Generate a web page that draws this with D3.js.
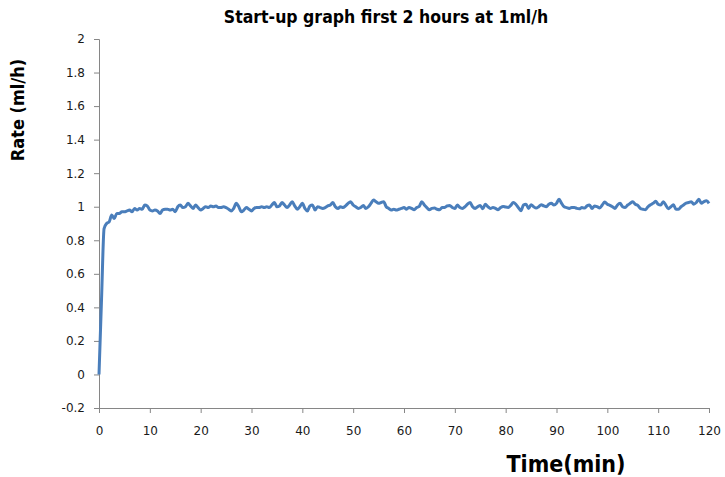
<!DOCTYPE html>
<html>
<head>
<meta charset="utf-8">
<script src="https://cdn.jsdelivr.net/npm/d3@7"></script>
<style>
  body { margin: 0; background: #fff; }
  .tick text { font-family: "DejaVu Sans", sans-serif; font-size: 12px; fill: #1a1a1a; }
  .domain, .tick line { stroke: #868686; }
</style>
</head>
<body>
<div id="chart"></div>
<script>
// time in minutes, sampled every half minute
var times = d3.range(0, 120.5, 0.5);

var rates = [
  0, 0.45, 0.87, 0.90, 0.91, 0.95, 0.93, 0.96, 0.96, 0.97,
  0.97, 0.975, 0.98, 0.97, 0.99, 0.98, 0.99, 0.985, 1.01, 1.005,
  0.98, 0.975, 0.98, 0.975, 0.96, 0.98, 0.985, 0.985, 0.98, 0.985,
  0.97, 1.0, 1.01, 0.995, 1.0, 1.02, 1.005, 0.99, 1.01, 0.995,
  0.98, 0.99, 1.0, 0.995, 1.005, 1.0, 1.005, 0.995, 0.995, 1.0,
  0.995, 0.985, 0.975, 0.99, 1.02, 1.0, 0.97, 0.98, 0.995, 0.985,
  0.975, 0.99, 0.995, 0.995, 1.0, 0.995, 1.0, 0.995, 1.01, 1.025,
  1.0, 1.005, 1.025, 1.01, 0.995, 1.01, 1.03, 1.005, 0.985, 1.0,
  1.02, 0.99, 0.975, 1.005, 1.01, 0.98, 1.0, 0.995, 0.99, 0.995,
  1.005, 1.01, 1.025, 1.0, 0.99, 1.0, 0.995,
  // 48.5 - 72
  1.005, 1.02, 1.03, 1.01, 1.0, 0.99, 0.995, 1.008, 0.99, 1.0,
  1.02, 1.04, 1.03, 1.02, 1.025, 1.03, 1.0, 0.99, 0.98, 0.985,
  0.98, 0.985, 0.99, 0.995, 0.985, 0.996, 0.99, 0.982, 0.995, 1.002,
  1.03, 1.01, 0.995, 0.982, 0.99, 0.992, 0.985, 0.982, 0.995, 0.996,
  1.005, 1.008, 0.995, 0.99, 1.01, 0.995, 0.99, 1.0,
  // 72.5 - 96.5
  1.015, 1.025, 1.0, 0.99, 1.0, 1.008, 0.988, 1.015, 1.0, 0.99,
  0.995, 0.99, 0.982, 0.995, 1.002, 0.998, 0.996, 1.008, 1.025, 1.015,
  0.995, 0.976, 1.01, 1.015, 0.99, 1.012, 1.0, 0.992, 1.0, 1.012,
  1.005, 1.0, 1.015, 1.02, 1.01, 1.02, 1.045, 1.02, 1.0, 0.995,
  0.99, 0.995, 0.996, 0.99, 0.988, 0.995, 0.992, 1.005, 1.01,
  // 97 - 120
  0.99, 1.005, 1.0, 0.992, 1.01, 1.028, 1.015, 1.008, 1.0, 0.99,
  1.01, 1.02, 1.0, 0.996, 1.01, 1.02, 1.03, 1.015, 1.008, 0.99,
  0.985, 0.982, 1.0, 1.012, 1.02, 1.032, 1.015, 1.01, 1.03, 1.01,
  0.988, 1.0, 1.012, 0.985, 0.985, 1.0, 1.01, 1.022, 1.025, 1.03,
  1.015, 1.025, 1.045, 1.02, 1.03, 1.035, 1.02
];

var xTicks = d3.range(0, 121, 10);
var yTicks = [-0.2, 0, 0.2, 0.4, 0.6, 0.8, 1, 1.2, 1.4, 1.6, 1.8, 2];

var width = 725,
    height = 477;

var x = d3.scaleLinear().domain([0, 120]).range([99, 709]);
var y = d3.scaleLinear().domain([-0.2, 2]).range([408, 39]);

var svg = d3.select('#chart').append('svg')
  .attr('width', width)
  .attr('height', height);

var data = times.map(function(t, i) { return [t, rates[i]]; })
  .filter(function(d) { return d[1] !== undefined; });

// plain hyphen for the minus sign, like the original
var fmt = function(d) { return String(+d.toFixed(1)); };

var yAxis = svg.append('g')
  .attr('transform', 'translate(' + x(0) + ',0)')
  .call(d3.axisLeft(y).tickValues(yTicks).tickSize(5).tickPadding(9).tickFormat(fmt));

var xAxis = svg.append('g')
  .attr('transform', 'translate(0,' + y(-0.2) + ')')
  .call(d3.axisBottom(x).tickValues(xTicks).tickSize(5).tickPadding(13));

svg.selectAll('.domain').attr('stroke', '#868686');

var line = d3.line()
  .x(function(d) { return x(d[0]); })
  .y(function(d) { return y(d[1]); })
  .curve(d3.curveMonotoneX);

svg.append('path')
  .datum(data)
  .attr('fill', 'none')
  .attr('stroke', '#4a7ebb')
  .attr('stroke-width', 3)
  .attr('stroke-linejoin', 'round')
  .attr('d', line);

svg.append('text')
  .attr('x', 386)
  .attr('y', 23)
  .attr('text-anchor', 'middle')
  .style('font-family', '"DejaVu Sans Condensed", "DejaVu Sans", sans-serif')
  .style('font-weight', 'bold')
  .style('font-size', '17.5px')
  .text('Start-up graph first 2 hours at 1ml/h');

svg.append('text')
  .attr('transform', 'translate(24,110) rotate(-90)')
  .attr('text-anchor', 'middle')
  .style('font-family', '"DejaVu Sans Condensed", "DejaVu Sans", sans-serif')
  .style('font-weight', 'bold')
  .style('font-size', '18px')
  .text('Rate (ml/h)');

svg.append('text')
  .attr('x', 566)
  .attr('y', 472)
  .attr('text-anchor', 'middle')
  .style('font-family', '"DejaVu Sans Condensed", "DejaVu Sans", sans-serif')
  .style('font-weight', 'bold')
  .style('font-size', '23px')
  .text('Time(min)');
</script>
</body>
</html>
